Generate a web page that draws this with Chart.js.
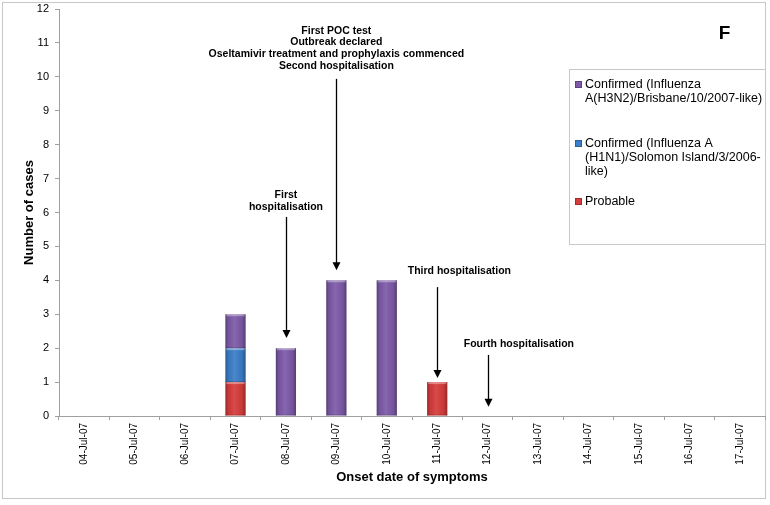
<!DOCTYPE html>
<html>
<head>
<meta charset="utf-8">
<script src="https://cdn.jsdelivr.net/npm/chart.js@4/dist/chart.umd.min.js"></script>
<style>
  html, body { margin: 0; padding: 0; background: #fff; }
  #wrap { width: 770px; height: 505px; position: relative; }
</style>
</head>
<body>
<div id="wrap"><canvas id="chart" width="770" height="505"></canvas></div>
<script>
// onset dates (category axis)
const dates = ['04-Jul-07', '05-Jul-07', '06-Jul-07', '07-Jul-07', '08-Jul-07', '09-Jul-07', '10-Jul-07',
               '11-Jul-07', '12-Jul-07', '13-Jul-07', '14-Jul-07', '15-Jul-07', '16-Jul-07', '17-Jul-07'];

// cases per day, stacked bottom -> top
const probable = [0, 0, 0, 1, 0, 0, 0, 1, 0, 0, 0, 0, 0, 0];
const h1n1     = [0, 0, 0, 1, 0, 0, 0, 0, 0, 0, 0, 0, 0, 0];
const h3n2     = [0, 0, 0, 1, 2, 4, 4, 0, 0, 0, 0, 0, 0, 0];

const seriesNames = [
    'Probable',
    'Confirmed (Influenza A (H1N1)/Solomon Island/3/2006-like)',
    'Confirmed (Influenza A(H3N2)/Brisbane/10/2007-like)'
];
// legend text as wrapped in the figure
const legendLines = [
    ['Probable'],
    ['Confirmed (Influenza A', '(H1N1)/Solomon Island/3/2006-', 'like)'],
    ['Confirmed (Influenza', 'A(H3N2)/Brisbane/10/2007-like)']
];
const seriesColors = ['#d53c3b', '#3b7dc8', '#7d5aa8'];

const yMax = 12;

// timeline annotations (category index / case count)
const notes = [
    { lines: ['First', 'hospitalisation'], tx: 4, ty: 6.5, ax: 4, from: 5.87, to: 2.3 },
    { lines: ['First POC test', 'Outbreak declared', 'Oseltamivir treatment and prophylaxis commenced', 'Second hospitalisation'],
      tx: 5, ty: 11.36, ax: 5, from: 9.94, to: 4.3 },
    { lines: ['Third hospitalisation'], tx: 7.44, ty: 4.27, ax: 7, from: 3.8, to: 1.12 },
    { lines: ['Fourth hospitalisation'], tx: 8.62, ty: 2.12, ax: 8, from: 1.8, to: 0.27 }
];

const FONT = "'Liberation Sans', Arial, Helvetica, sans-serif";

const decorPlugin = {
    id: 'decor',
    beforeDraw(chart) {
        const c = chart.ctx;
        c.save();
        c.fillStyle = '#fff';
        c.fillRect(0, 0, chart.width, chart.height);
        c.strokeStyle = '#c8c8c8';
        c.lineWidth = 1;
        c.strokeRect(2.5, 2.5, 763, 496);
        c.restore();
    },
    afterDatasetsDraw(chart) {
        const c = chart.ctx;
        c.save();
        // bevel shading on each bar segment
        chart.data.datasets.forEach((ds, i) => {
            chart.getDatasetMeta(i).data.forEach(el => {
                const h = el.base - el.y;
                if (h <= 0) return;
                const l = el.x - el.width / 2, w = el.width;
                const g = c.createLinearGradient(l, 0, l + w, 0);
                g.addColorStop(0, 'rgba(0,0,0,0.3)');
                g.addColorStop(0.15, 'rgba(0,0,0,0.06)');
                g.addColorStop(0.45, 'rgba(255,255,255,0.08)');
                g.addColorStop(0.82, 'rgba(0,0,0,0.06)');
                g.addColorStop(1, 'rgba(0,0,0,0.32)');
                c.fillStyle = g;
                c.fillRect(l, el.y, w, h);
                c.fillStyle = 'rgba(255,255,255,0.35)';
                c.fillRect(l + 1, el.y, w - 2, 2);
                c.fillStyle = 'rgba(0,0,0,0.15)';
                c.fillRect(l, el.base - 1, w, 1);
            });
        });
        c.restore();
    },
    afterDraw(chart) {
        const c = chart.ctx;
        const xs = chart.scales.x, ys = chart.scales.y;
        const catW = xs.getPixelForValue(1) - xs.getPixelForValue(0);
        const px = v => xs.getPixelForValue(0) + v * catW;
        c.save();
        c.fillStyle = '#000';
        c.strokeStyle = '#000';
        c.font = 'bold 10.5px ' + FONT;
        c.textAlign = 'center';
        c.textBaseline = 'middle';
        notes.forEach(n => {
            const y0 = ys.getPixelForValue(n.ty);
            n.lines.forEach((t, k) => c.fillText(t, px(n.tx), y0 + k * 11.7));
            const x = Math.round(px(n.ax)) + 0.5;
            const yA = ys.getPixelForValue(n.from), yB = ys.getPixelForValue(n.to);
            c.lineWidth = 1.3;
            c.beginPath();
            c.moveTo(x, yA);
            c.lineTo(x, yB - 6);
            c.stroke();
            c.beginPath();
            c.moveTo(x - 4, yB - 8);
            c.lineTo(x + 4, yB - 8);
            c.lineTo(x, yB);
            c.closePath();
            c.fill();
        });
        // panel letter
        c.font = 'bold 19px ' + FONT;
        c.fillText('F', px(12.7), ys.getPixelForValue(11.26));

        // legend box
        const lx = 569.5, ly = 69.5;
        c.strokeStyle = '#c8c8c8';
        c.lineWidth = 1;
        c.strokeRect(lx, ly, 196, 175);
        c.font = '12.5px ' + FONT;
        c.textAlign = 'left';
        c.fillStyle = '#000';
        const starts = [85, 144, 202];
        for (let i = seriesNames.length - 1, j = 0; i >= 0; i--, j++) {
            const y = starts[j];
            c.fillStyle = seriesColors[i];
            c.fillRect(575, y - 4, 7, 7);
            c.strokeStyle = 'rgba(0,0,0,0.25)';
            c.strokeRect(575.5, y - 3.5, 6, 6);
            c.fillStyle = '#000';
            legendLines[i].forEach((t, k) => c.fillText(t, 585, y + k * 14));
        }
        c.restore();
    }
};

new Chart(document.getElementById('chart'), {
    type: 'bar',
    data: {
        labels: dates,
        datasets: [probable, h1n1, h3n2].map((d, i) => ({
            label: seriesNames[i],
            data: d,
            backgroundColor: seriesColors[i],
            borderWidth: 0,
            barPercentage: 0.4,
            categoryPercentage: 1
        }))
    },
    options: {
        responsive: false,
        animation: false,
        layout: { padding: { left: 18, right: 5, top: 9, bottom: 20 } },
        plugins: {
            legend: { display: false },
            tooltip: { enabled: false }
        },
        scales: {
            x: {
                stacked: true,
                grid: { drawOnChartArea: false, tickLength: 4, color: '#a0a0a0' },
                border: { color: '#a0a0a0' },
                ticks: {
                    color: '#000', maxRotation: 90, minRotation: 90, padding: 3,
                    font: { family: FONT, size: 10 }
                },
                title: {
                    display: true, text: 'Onset date of symptoms', color: '#000',
                    padding: { top: 4, bottom: 0 },
                    font: { family: FONT, size: 13, weight: 'bold' }
                },
                afterFit: s => { s.height = 69; }
            },
            y: {
                stacked: true,
                min: 0,
                max: yMax,
                grid: { drawOnChartArea: false, tickLength: 4, color: '#a0a0a0' },
                border: { color: '#a0a0a0' },
                ticks: {
                    stepSize: 1, color: '#000', padding: 6,
                    font: { family: FONT, size: 11 }
                },
                title: {
                    display: true, text: 'Number of cases', color: '#000',
                    font: { family: FONT, size: 13, weight: 'bold' }
                },
                afterFit: s => { s.width = 41; s.paddingTop = 0; s.paddingBottom = 0; }
            }
        }
    },
    plugins: [decorPlugin]
});
</script>
</body>
</html>
